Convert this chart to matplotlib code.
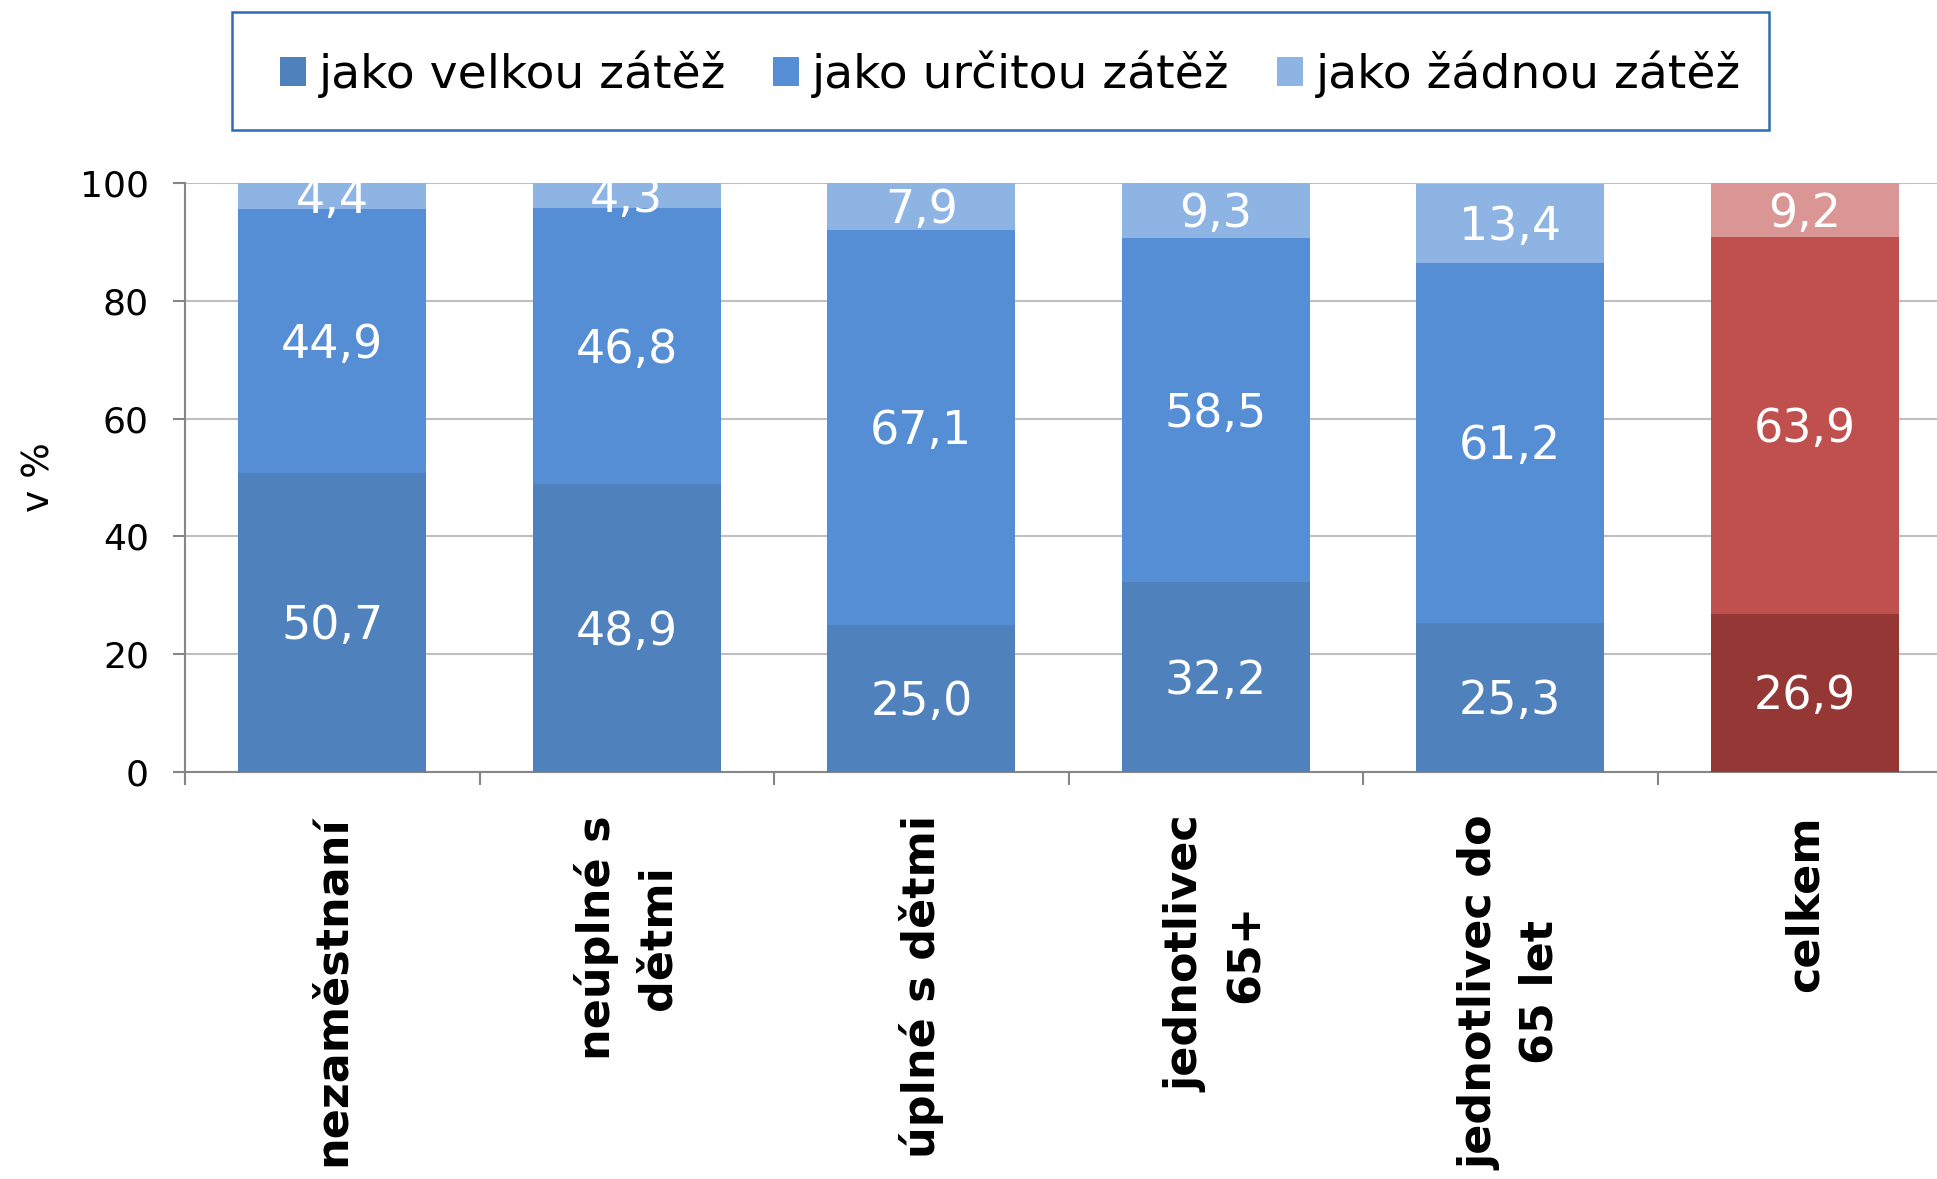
import matplotlib
matplotlib.use("Agg")
import matplotlib.pyplot as plt
from matplotlib.patches import Rectangle, Patch
import numpy as np

categories = ["nezaměstnaní", "neúplné s\ndětmi", "úplné s dětmi",
              "jednotlivec\n65+", "jednotlivec do\n65 let", "celkem"]
series_names = ["jako velkou zátěž", "jako určitou zátěž", "jako žádnou zátěž"]
velkou = [50.7, 48.9, 25.0, 32.2, 25.3, 26.9]
urcitou = [44.9, 46.8, 67.1, 58.5, 61.2, 63.9]
zadnou = [4.4, 4.3, 7.9, 9.3, 13.4, 9.2]
yticks = [0, 20, 40, 60, 80, 100]

blue_cols = ["#4F81BD", "#558ED5", "#8EB4E3"]
red_cols = ["#953735", "#C0504D", "#D99694"]

plt.rcParams['font.family'] = ['DejaVu Sans']

W, H = 1937, 1179
fig = plt.figure(figsize=(W / 100, H / 100), dpi=100)
ax = fig.add_axes([185 / W, 1 - 772 / H, 1767 / W, (772 - 183) / H])

x = np.arange(len(categories))
data = [velkou, urcitou, zadnou]
bottom = np.zeros(len(categories))
for si, vals in enumerate(data):
    vals = np.array(vals)
    colors = [red_cols[si] if c == "celkem" else blue_cols[si] for c in categories]
    ax.bar(x, vals, width=0.64, bottom=bottom, color=colors, zorder=3,
           linewidth=0)
    for xi, b, v in zip(x, bottom, vals):
        ax.annotate(f"{v:.1f}".replace(".", ","), xy=(xi, b + v / 2),
                    xytext=(0, -3), textcoords="offset points",
                    ha="center", va="center", color="white", fontsize=33,
                    zorder=4)
    bottom = bottom + vals

ax.set_xlim(-0.5, len(categories) - 0.5)
ax.set_ylim(0, 100)
ax.set_yticks(yticks)
ax.set_yticklabels([str(t) for t in yticks], fontsize=26)
ax.yaxis.grid(True, color="#BFBFBF", linewidth=1.5, zorder=0)
ax.set_axisbelow(True)

ax.set_xticks(x)
ax.set_xticklabels(categories, rotation=90, fontsize=32, fontweight="bold",
                   ha="center", va="top", linespacing=1.5)
ax.set_xticks(np.arange(-0.5, len(categories)), minor=True)
ax.tick_params(axis="x", which="major", length=0, pad=31)
ax.tick_params(axis="x", which="minor", length=9, width=1.5, color="#868686",
               direction="out")
ax.tick_params(axis="y", which="major", length=9, width=1.5, color="#868686",
               pad=17, direction="out")

for s in ["top", "right"]:
    ax.spines[s].set_visible(False)
for s in ["left", "bottom"]:
    ax.spines[s].set_color("#868686")
    ax.spines[s].set_linewidth(1.5)

ax.set_ylabel("v %", fontsize=27)
ax.yaxis.set_label_coords(-0.072, 0.5)

# legend frame
lx0, lx1, ly0, ly1 = 232, 1769, 12, 130
fig.patches.append(Rectangle((lx0 / W, 1 - ly1 / H), (lx1 - lx0) / W,
                             (ly1 - ly0) / H, transform=fig.transFigure,
                             fill=False, edgecolor="#2E6DB4", linewidth=1.8))
handles = [Patch(facecolor=c, edgecolor="none") for c in blue_cols]
fig.legend(handles, series_names, loc="center", ncol=3, frameon=False,
           bbox_to_anchor=((lx0 + lx1) / 2 / W + 0.005, 1 - (ly0 + ly1) / 2 / H - 0.003),
           fontsize=34, handlelength=0.55, handleheight=0.55,
           handletextpad=0.27, columnspacing=1.0)

fig.savefig("out.png", dpi=100)
